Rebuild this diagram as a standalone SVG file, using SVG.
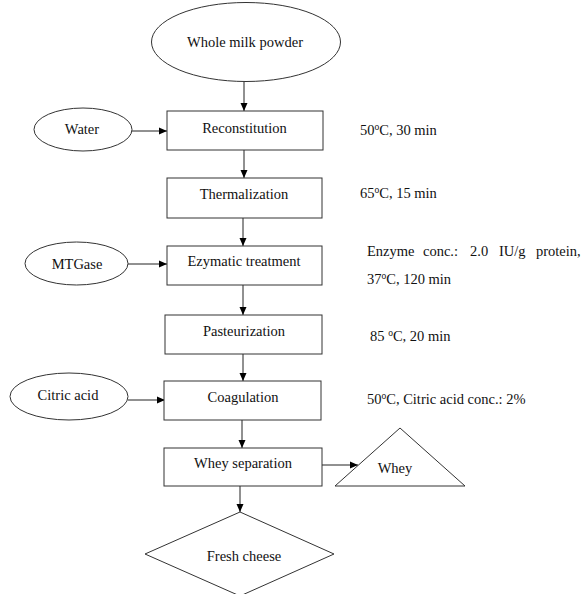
<svg xmlns="http://www.w3.org/2000/svg" width="582" height="594" viewBox="0 0 582 594" font-family="'Liberation Serif', 'DejaVu Serif', serif">
<defs>
<marker id="ah" markerUnits="userSpaceOnUse" markerWidth="9" markerHeight="8" refX="8" refY="4" orient="auto">
<path d="M0,0.5 L8,4 L0,7.5 Z" fill="#000"/>
</marker>
<style>
.shape{fill:#fff;stroke:#333;stroke-width:1}
.lbl{font-family:'Liberation Serif',serif;font-size:14.5px;fill:#111;text-anchor:middle}
.note{font-family:'Liberation Serif',serif;font-size:14.5px;fill:#111}
.conn{stroke:#222;stroke-width:1;fill:none;marker-end:url(#ah)}
</style>
</defs>
<rect width="582" height="594" fill="#fff"/>
<g id="connectors">
<line class="conn" x1="244" y1="81.5" x2="244" y2="111"/>
<line class="conn" x1="132" y1="131" x2="167" y2="131"/>
<line class="conn" x1="244" y1="150" x2="244" y2="178"/>
<line class="conn" x1="243" y1="218" x2="243" y2="246"/>
<line class="conn" x1="128" y1="264" x2="167" y2="264"/>
<line class="conn" x1="243" y1="285" x2="243" y2="315"/>
<line class="conn" x1="243" y1="354" x2="243" y2="381"/>
<line class="conn" x1="128" y1="400" x2="165" y2="400"/>
<line class="conn" x1="242" y1="420" x2="242" y2="448"/>
<line class="conn" x1="322" y1="465" x2="358" y2="465"/>
<line class="conn" x1="240" y1="486" x2="240" y2="512"/>
</g>
<g id="whole-milk-powder">
<ellipse class="shape" cx="246" cy="42" rx="94.5" ry="39.5"/>
<text class="lbl" x="245" y="47" font-family="Liberation Serif">Whole milk powder</text>
</g>
<g id="water">
<ellipse class="shape" cx="83" cy="129.5" rx="49" ry="21.5"/>
<text class="lbl" x="82" y="134" font-family="Liberation Serif">Water</text>
</g>
<g id="reconstitution">
<rect class="shape" x="167" y="111" width="156" height="39"/>
<text class="lbl" x="244.5" y="133" font-family="Liberation Serif">Reconstitution</text>
</g>
<g id="thermalization">
<rect class="shape" x="167" y="178" width="155" height="40"/>
<text class="lbl" x="244" y="199" font-family="Liberation Serif">Thermalization</text>
</g>
<g id="mtgase">
<ellipse class="shape" cx="76.5" cy="263.5" rx="51.5" ry="21.5"/>
<text class="lbl" x="77" y="269" font-family="Liberation Serif">MTGase</text>
</g>
<g id="ezymatic-treatment">
<rect class="shape" x="167" y="246" width="155" height="39"/>
<text class="lbl" x="244" y="266" font-family="Liberation Serif">Ezymatic treatment</text>
</g>
<g id="pasteurization">
<rect class="shape" x="165" y="315" width="157" height="39"/>
<text class="lbl" x="244" y="336" font-family="Liberation Serif">Pasteurization</text>
</g>
<g id="citric-acid">
<ellipse class="shape" cx="69" cy="396.5" rx="59" ry="23.5"/>
<text class="lbl" x="68" y="400" font-family="Liberation Serif">Citric acid</text>
</g>
<g id="coagulation">
<rect class="shape" x="164" y="381" width="157" height="39"/>
<text class="lbl" x="243" y="402" font-family="Liberation Serif">Coagulation</text>
</g>
<g id="whey-separation">
<rect class="shape" x="164" y="448" width="158" height="38"/>
<text class="lbl" x="243" y="468" font-family="Liberation Serif">Whey separation</text>
</g>
<g id="whey">
<polygon class="shape" points="335,486 400,428 465,486"/>
<text class="lbl" x="395" y="473" font-family="Liberation Serif">Whey</text>
</g>
<g id="fresh-cheese">
<polygon class="shape" points="240,512 334,554 240,596 145,554"/>
<text class="lbl" x="244" y="561" font-family="Liberation Serif">Fresh cheese</text>
</g>
<g id="notes" font-family="Liberation Serif">
<text class="note" x="360" y="135">50<tspan font-size="9.5" dy="-5">o</tspan><tspan dy="5">C, 30 min</tspan></text>
<text class="note" x="360" y="198">65<tspan font-size="9.5" dy="-5">o</tspan><tspan dy="5">C, 15 min</tspan></text>
<text class="note" y="256"><tspan x="367">Enzyme</tspan><tspan x="423">conc.:</tspan><tspan x="470">2.0</tspan><tspan x="499">IU/g</tspan><tspan x="536">protein,</tspan></text>
<text class="note" x="367" y="284">37<tspan font-size="9.5" dy="-5">o</tspan><tspan dy="5">C, 120 min</tspan></text>
<text class="note" x="370" y="341">85 <tspan font-size="9.5" dy="-5">o</tspan><tspan dy="5">C, 20 min</tspan></text>
<text class="note" x="367" y="404">50<tspan font-size="9.5" dy="-5">o</tspan><tspan dy="5">C, Citric acid conc.: 2%</tspan></text>
</g>
</svg>
